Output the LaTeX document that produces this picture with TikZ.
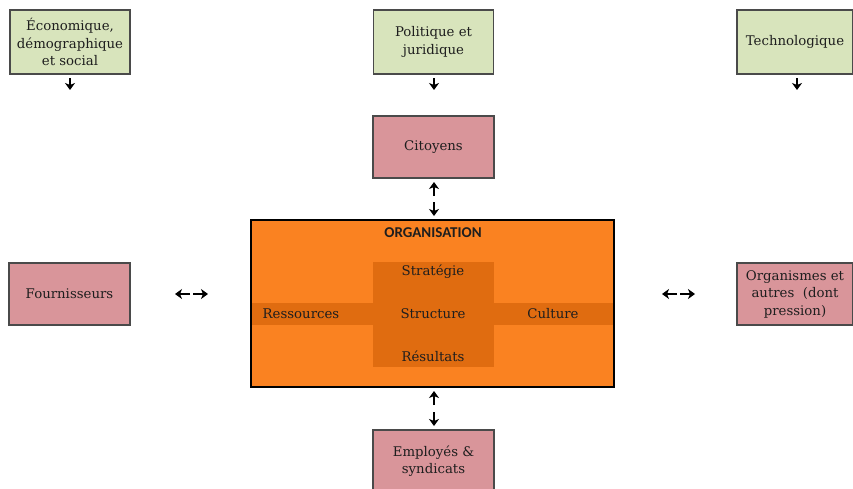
\documentclass[tikz,border=0pt]{standalone}
\usepackage{fontspec}
\setmainfont{DejaVu Serif}
\newfontfamily\orgfont{Carlito}
\usetikzlibrary{arrows.meta}
\definecolor{envgreen}{HTML}{D8E4BC}
\definecolor{actpink}{HTML}{D9959A}
\definecolor{orgorange}{HTML}{FA8221}
\definecolor{orgdark}{HTML}{E06C10}
\definecolor{boxline}{HTML}{4A4A4A}
\definecolor{txt}{HTML}{1E1E1E}
\tikzset{
  envbox/.style={draw=boxline, line width=1.2pt, fill=envgreen, inner sep=0pt, align=center,
    text=txt, font=\fontsize{13.3}{17.5}\selectfont},
  actbox/.style={draw=boxline, line width=1.2pt, fill=actpink, inner sep=0pt, align=center,
    text=txt, font=\fontsize{13.3}{17.5}\selectfont},
  inlabel/.style={font=\fontsize{13.3}{17.5}\selectfont, text=txt},
  tiny/.style={-{Stealth[length=7pt,width=10pt,inset=2pt]}, line width=2.8pt}
}
\begin{document}
\begin{tikzpicture}[x=1pt,y=-1pt]
\useasboundingbox (0,0) rectangle (853,488);
% environment boxes
\node[envbox, minimum width=120pt, minimum height=64pt] (eco) at (70,42) {Économique,\\démographique\\et social};
\node[envbox, minimum width=120pt, minimum height=64pt] (pol) at (433.5,42) {Politique et\\juridique};
\node[envbox, minimum width=116pt, minimum height=64pt] (tec) at (795,42) {Technologique};
% small down arrows
\coordinate (ecoA) at (70,78); \coordinate (ecoB) at (70,90);
\coordinate (polA) at (434,78); \coordinate (polB) at (434,90);
\coordinate (tecA) at (797,78); \coordinate (tecB) at (797,90);
\draw[tiny] (ecoA) -- (ecoB);
\draw[tiny] (polA) -- (polB);
\draw[tiny] (tecA) -- (tecB);
% actors
\node[actbox, minimum width=121pt, minimum height=62pt] (cit) at (433.5,147) {Citoyens};
\node[actbox, minimum width=121pt, minimum height=62pt] (fou) at (69.5,294) {Fournisseurs};
\node[actbox, minimum width=116pt, minimum height=62pt] (orgs) at (795,294) {Organismes et\\autres~~(dont\\pression)};
\node[actbox, minimum width=121pt, minimum height=62pt] (emp) at (433.5,461) {Employés \&\\syndicats};
% organisation
\node[draw=black, line width=2.4pt, fill=orgorange, minimum width=363pt, minimum height=167pt, inner sep=0pt] (org) at (432.5,303.5) {};
\fill[orgdark] (252,303) rectangle (613,325);
\fill[orgdark] (373,262) rectangle (494,367);
\node[font=\orgfont\bfseries\fontsize{15}{18}\selectfont, text=txt] (orgt) at (433,233) {ORGANISATION};
\node[inlabel] (strat) at (433,272) {Stratégie};
\node[inlabel] (struc) at (433,314) {Structure};
\node[inlabel] (res) at (301,314) {Ressources};
\node[inlabel] (cul) at (553,314) {Culture};
\node[inlabel] (resu) at (433,356) {Résultats};
% double arrows
\coordinate (c1) at (434,196); \coordinate (c0) at (434,182);
\coordinate (c2) at (434,202); \coordinate (c3) at (434,216);
\draw[tiny] (c1) -- (c0);
\draw[tiny] (c2) -- (c3);
\coordinate (e1) at (434,405); \coordinate (e0) at (434,391);
\coordinate (e2) at (434,412); \coordinate (e3) at (434,426);
\draw[tiny] (e1) -- (e0);
\draw[tiny] (e2) -- (e3);
\coordinate (f1) at (190,294); \coordinate (f0) at (175,294);
\coordinate (f2) at (193,294); \coordinate (f3) at (208,294);
\draw[tiny] (f1) -- (f0);
\draw[tiny] (f2) -- (f3);
\coordinate (g1) at (677,294); \coordinate (g0) at (662,294);
\coordinate (g2) at (680,294); \coordinate (g3) at (695,294);
\draw[tiny] (g1) -- (g0);
\draw[tiny] (g2) -- (g3);
\end{tikzpicture}
\end{document}
